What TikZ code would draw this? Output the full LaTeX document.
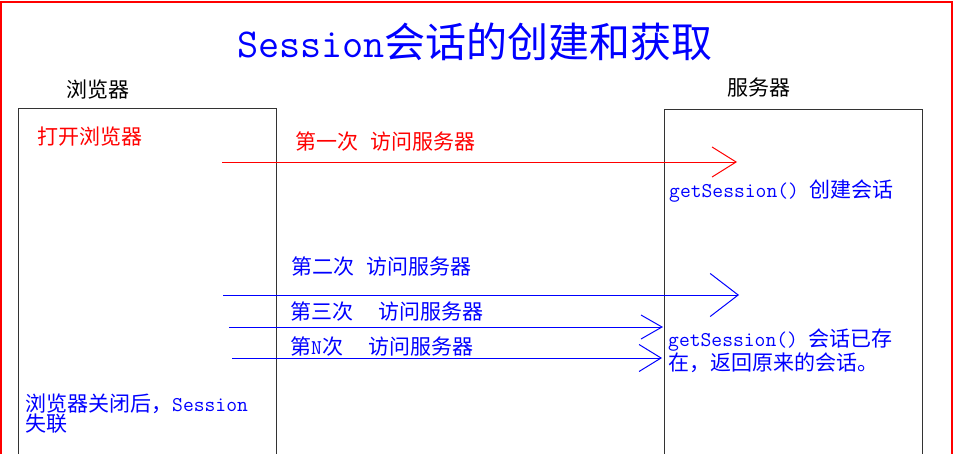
\documentclass[tikz,border=0pt]{standalone}
\usepackage{fontspec}
\setmainfont{Noto Sans CJK SC}
\usetikzlibrary{arrows.meta}

\begin{document}
\begin{tikzpicture}[
    x=1pt,
    y=-1pt,
    frame/.style={
        draw,
        red,
        line width=2pt
    },
    lane/.style={
        draw=black!80,
        line width=1.3pt,
        anchor=north west,
        inner sep=0pt,
        minimum width=#1,
        minimum height=420pt
    },
    caption/.style={
        inner sep=0pt,
        font=\fontsize{21}{20}\selectfont
    },
    note/.style={
        caption,
        anchor=west
    },
    request/.style 2 args={
        line width=1pt,
        -{Straight Barb[length=#1,width=#2]}
    },
    ]
    \useasboundingbox (0,0) rectangle (956,453);
    \clip (0,0) rectangle (956,453);

    % outer frame
    \draw[frame] (1,1.5) rectangle (951.5,480);

    \node[inner sep=0pt, blue, font=\fontsize{41}{41}\selectfont]
        (title) at (475,42) {{\ttfamily Session}会话的创建和获取};

    % the two sides
    \node[lane=258pt] (browser) at (18,107.5) {};
    \node[lane=257.5pt] (server) at (664,109) {};
    \node[caption] (browser label) at (98,90) {浏览器};
    \node[caption] (server label) at (759,88) {服务器};

    % browser side
    \node[note, red] (open) at (37,137) {打开浏览器};
    \node[caption, blue, anchor=north west, align=left] (close) at (25,394)
        {浏览器关闭后，{\ttfamily Session}\\失联};

    % server side
    \node[note, blue] (create) at (669,191)
        {{\ttfamily getSession()}\hspace{0.5em}创建会话};
    \node[caption, blue, anchor=north west, align=left] (reuse) at (668,329)
        {{\ttfamily getSession()}\hspace{0.5em}会话已存\\在，返回原来的会话。};

    % requests
    \coordinate (req1 from) at (222,162);
    \coordinate (req1 to) at (737,162);
    \coordinate (req2 from) at (223,295);
    \coordinate (req2 to) at (739,295);
    \coordinate (req3 from) at (229,327);
    \coordinate (req3 to) at (663,327);
    \coordinate (reqN from) at (232,358);
    \coordinate (reqN to) at (662,358);

    \draw[red, request={24pt}{30pt}] (req1 from) -- (req1 to);
    \draw[blue, request={28pt}{43pt}] (req2 from) -- (req2 to);
    \draw[blue, request={21pt}{24pt}] (req3 from) -- (req3 to);
    \draw[blue, request={22pt}{27pt}] (reqN from) -- (reqN to);

    \node[note, red] (req1 label) at (295,142) {第一次\hspace{0.6em}访问服务器};
    \node[note, blue] (req2 label) at (291,267) {第二次\hspace{0.6em}访问服务器};
    \node[note, blue] (req3 label) at (290,312) {第三次\hspace{1.2em}访问服务器};
    \node[note, blue] (reqN label) at (290,347) {第{\ttfamily N}次\hspace{1.2em}访问服务器};
\end{tikzpicture}
\end{document}
